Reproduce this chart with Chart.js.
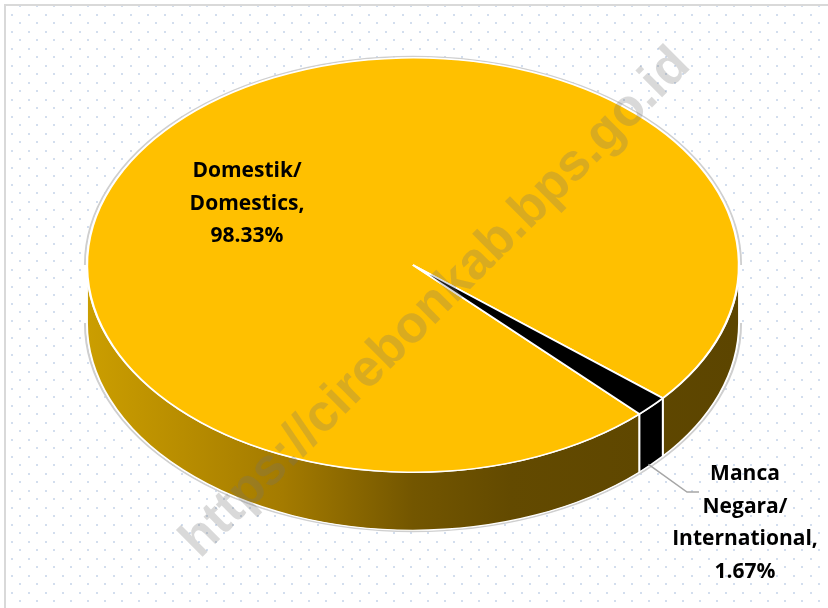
<!DOCTYPE html>
<html>
<head>
<meta charset="utf-8">
<script src="https://cdn.jsdelivr.net/npm/chart.js@4.4.1/dist/chart.umd.min.js"></script>
<style>
  html, body { margin: 0; padding: 0; background: #fff; }
  #wrap { position: relative; width: 828px; height: 608px; }
</style>
</head>
<body>
<div id="wrap"><canvas id="pieChart" width="828" height="608"></canvas></div>
<script>
// data
const categories = ['Domestik/ Domestics', 'Manca Negara/ International'];
const shares = [98.33, 1.67];
const sliceColors = ['#FFC000', '#000000'];
const labelLines = [
  ['Domestik/', 'Domestics,', '98.33%'],
  ['Manca', 'Negara/', 'International,', '1.67%']
];
const watermark = 'https://cirebonkab.bps.go.id';

const depth = 58;

// paper: white, dotted grid, thin frame on top/left
const paper = {
  id: 'paper',
  beforeDraw(chart) {
    const ctx = chart.ctx;
    ctx.save();
    ctx.fillStyle = '#fff';
    ctx.fillRect(0, 0, chart.width, chart.height);
    ctx.fillStyle = '#d3deee';
    let row = 0;
    for (let y = 6; y < chart.height; y += 8.5, row++) {
      for (let x = row % 2 ? 12 : 20; x < chart.width; x += 17) {
        ctx.fillRect(Math.round(x) - 1, Math.round(y) - 1, 2, 2);
      }
    }
    ctx.strokeStyle = '#d9d9d9';
    ctx.lineWidth = 2;
    ctx.beginPath();
    ctx.moveTo(5, chart.height);
    ctx.lineTo(5, 5);
    ctx.lineTo(chart.width, 5);
    ctx.stroke();
    ctx.restore();
  }
};

// fake 3d: squash the pie into an ellipse and draw the side wall
const pie3d = {
  id: 'pie3d',
  beforeDatasetsDraw(chart) {
    const ctx = chart.ctx;
    const arcs = chart.getDatasetMeta(0).data;
    const area = chart.chartArea;
    const cx = arcs[0].x, cy = arcs[0].y, r = arcs[0].outerRadius;
    const k = (area.width / 2) / r;
    ctx.save();
    ctx.translate(cx, cy);
    ctx.scale(k, 1);
    ctx.translate(-cx, -cy);

    // soft grey rim
    ctx.strokeStyle = '#cfcfcf';
    ctx.lineWidth = 1.5;
    ctx.beginPath();
    ctx.arc(cx, cy, r + 1.2, Math.PI, 2 * Math.PI);
    ctx.stroke();
    ctx.beginPath();
    ctx.arc(cx, cy + depth, r + 1.2, 0, Math.PI);
    ctx.stroke();

    const grad = ctx.createLinearGradient(cx - r, 0, cx + r, 0);
    grad.addColorStop(0, '#CB9E00');
    grad.addColorStop(0.3, '#A47B00');
    grad.addColorStop(0.5, '#735600');
    grad.addColorStop(0.65, '#634A00');
    grad.addColorStop(1, '#5C4500');
    const sideFill = [grad, '#000000'];

    arcs.forEach((arc, i) => {
      const a0 = arc.startAngle, a1 = arc.endAngle;
      for (let n = -1; n <= 2; n++) {
        const lo = Math.max(a0, n * 2 * Math.PI);
        const hi = Math.min(a1, n * 2 * Math.PI + Math.PI);
        if (hi <= lo) continue;
        ctx.beginPath();
        ctx.arc(cx, cy, r, lo, hi);
        ctx.arc(cx, cy + depth, r, hi, lo, true);
        ctx.closePath();
        ctx.fillStyle = sideFill[i];
        ctx.fill();
        ctx.strokeStyle = '#ffffff';
        ctx.lineWidth = 1.2;
        ctx.stroke();
      }
    });
  },
  afterDatasetsDraw(chart) {
    const ctx = chart.ctx;
    ctx.restore();

    const arcs = chart.getDatasetMeta(0).data;
    const area = chart.chartArea;
    const cx = arcs[0].x, cy = arcs[0].y, r = arcs[0].outerRadius;
    const k = (area.width / 2) / r;

    ctx.save();
    ctx.fillStyle = '#000';
    ctx.font = 'bold 21px "Open Sans"';
    ctx.textAlign = 'center';
    ctx.textBaseline = 'alphabetic';

    // big slice label inside
    labelLines[0].forEach((t, j) => ctx.fillText(t, 247, 177 + j * 32.5));

    // small slice: leader line + outside label
    const small = arcs[1];
    const mid = (small.startAngle + small.endAngle) / 2;
    const sx = cx + k * r * Math.cos(mid) - 3;
    const sy = cy + r * Math.sin(mid) + depth;
    ctx.strokeStyle = '#a6a6a6';
    ctx.lineWidth = 1.5;
    ctx.beginPath();
    ctx.moveTo(sx, sy);
    ctx.lineTo(687, 492);
    ctx.lineTo(699, 492);
    ctx.stroke();
    labelLines[1].forEach((t, j) => ctx.fillText(t, 745, 480 + j * 32.5));
    ctx.restore();
  },
  afterDraw(chart) {
    const ctx = chart.ctx;
    ctx.save();
    ctx.translate(436, 303);
    ctx.rotate(-Math.PI / 4);
    ctx.font = 'bold 52px "Liberation Sans"';
    ctx.textAlign = 'center';
    ctx.textBaseline = 'middle';
    ctx.fillStyle = 'rgba(115,115,115,0.27)';
    ctx.fillText(watermark, 0, 0);
    ctx.restore();
  }
};

new Chart(document.getElementById('pieChart'), {
  type: 'pie',
  data: {
    labels: categories,
    datasets: [{
      data: shares,
      backgroundColor: sliceColors,
      borderColor: '#ffffff',
      borderWidth: 1.5,
      hoverOffset: 0,
      offset: 0,
      clip: false
    }]
  },
  options: {
    responsive: false,
    devicePixelRatio: 1,
    animation: false,
    events: [],
    rotation: 136,
    layout: { padding: { left: 87, right: 89, top: 57, bottom: 135 } },
    plugins: {
      legend: { display: false },
      tooltip: { enabled: false }
    }
  },
  plugins: [paper, pie3d]
});
</script>
</body>
</html>
